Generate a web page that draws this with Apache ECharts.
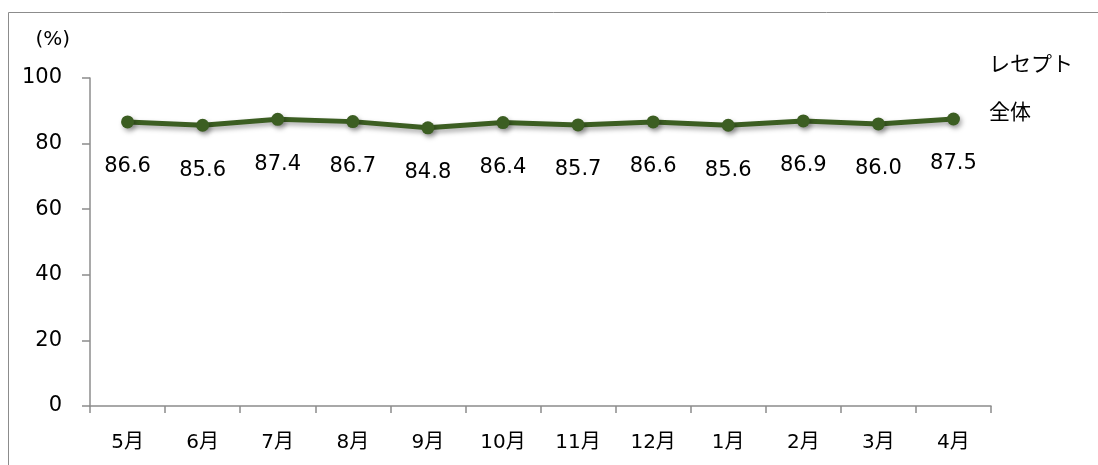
<!DOCTYPE html>
<html>
<head>
<meta charset="utf-8">
<script src="https://cdn.jsdelivr.net/npm/echarts@6/dist/echarts.min.js"></script>
<style>
  html, body { margin: 0; padding: 0; background: #fff; }
  #chart { width: 1098px; height: 465px; }
</style>
</head>
<body>
<div id="chart"></div>
<script>
const months = ["5月", "6月", "7月", "8月", "9月", "10月", "11月", "12月", "1月", "2月", "3月", "4月"];
const receiptAll = [86.6, 85.6, 87.4, 86.7, 84.8, 86.4, 85.7, 86.6, 85.6, 86.9, 86.0, 87.5];
const seriesName = "レセプト\n全体";

const font = '"DejaVu Sans", "Noto Sans CJK JP", sans-serif';
const chart = echarts.init(document.getElementById("chart"));

chart.setOption({
  animation: false,
  textStyle: { fontFamily: font },
  graphic: [
    {
      type: "rect",
      shape: { x: 8.5, y: 12.5, width: 1200, height: 500 },
      style: { fill: "none", stroke: "#8c8c8c", lineWidth: 1 },
      silent: true,
    },
  ],
  legend: {
    left: 979,
    top: 37,
    orient: "vertical",
    data: [{ name: seriesName, icon: "none" }],
    itemWidth: 0,
    itemGap: 0,
    textStyle: { fontSize: 21, color: "#000", lineHeight: 48, fontFamily: font },
  },
  grid: { left: 90, right: 107, top: 78, bottom: 59 },
  xAxis: {
    type: "category",
    data: months,
    boundaryGap: true,
    axisLine: { lineStyle: { color: "#8c8c8c", width: 1.5 } },
    axisTick: { show: true, interval: 0, length: 7, lineStyle: { color: "#8c8c8c", width: 1.5 } },
    axisLabel: { color: "#000", fontSize: 20, margin: 27, interval: 0, fontFamily: font },
  },
  yAxis: {
    type: "value",
    min: 0,
    max: 100,
    interval: 20,
    name: "(%)",
    nameGap: 28,
    nameTextStyle: { color: "#000", fontSize: 20, align: "right", padding: [0, 20, 0, 0], fontFamily: font },
    axisLine: { show: true, lineStyle: { color: "#8c8c8c", width: 1.5 } },
    axisTick: { show: true, length: 8, lineStyle: { color: "#8c8c8c", width: 1.5 } },
    axisLabel: { color: "#000", fontSize: 21, margin: 28, fontFamily: font },
    splitLine: { show: false },
  },
  series: [
    {
      name: seriesName,
      type: "line",
      data: receiptAll,
      symbol: "circle",
      symbolSize: 13,
      lineStyle: {
        color: "#3c5e22",
        width: 5,
        shadowColor: "rgba(0,0,0,0.35)",
        shadowBlur: 5,
        shadowOffsetX: 2,
        shadowOffsetY: 3,
      },
      itemStyle: {
        color: "#3c5e22",
        shadowColor: "rgba(0,0,0,0.35)",
        shadowBlur: 5,
        shadowOffsetX: 2,
        shadowOffsetY: 3,
      },
      label: {
        show: true,
        position: "bottom",
        distance: 28,
        color: "#000",
        fontSize: 21,
        fontFamily: font,
        formatter: (p) => p.value.toFixed(1),
      },
    },
  ],
});
</script>
</body>
</html>
